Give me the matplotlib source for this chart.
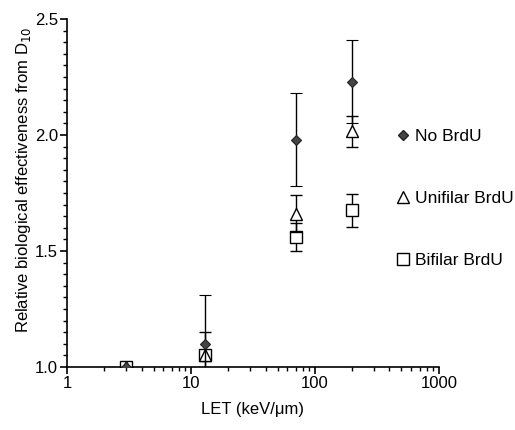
import numpy as np
import matplotlib
matplotlib.use("Agg")
from matplotlib import pyplot as plt
from matplotlib.lines import Line2D
from matplotlib.ticker import FixedLocator, NullFormatter, MultipleLocator

plt.rcParams["font.family"] = ["Liberation Sans", "DejaVu Sans"]

# LET values (keV/um)
let = [3, 13, 70, 200]

# RBE from D10 with error bars
rbe_none = [1.0, 1.10, 1.98, 2.23]
err_none = [0.0, 0.21, 0.20, 0.18]
rbe_uni = [1.0, 1.05, 1.66, 2.015]
err_uni = [0.0, 0.10, 0.08, 0.065]
rbe_bi = [1.0, 1.05, 1.56, 1.675]
err_bi = [0.0, 0.0, 0.06, 0.07]

labels = ["No BrdU", "Unifilar BrdU", "Bifilar BrdU"]

fig = plt.figure(figsize=(5.15, 4.3), dpi=100)
ax = fig.add_axes([0.130, 0.1465, 0.722, 0.8095])

ebkw = dict(ecolor="black", elinewidth=1.0, capsize=4.5, capthick=1.0, linestyle="none")
ax.errorbar(let, rbe_bi, yerr=err_bi, marker="s", ms=8, mfc="white", mec="black",
            mew=1.0, zorder=3, **ebkw)
ax.errorbar(let, rbe_uni, yerr=err_uni, marker="^", ms=9, mfc="white", mec="black",
            mew=1.0, zorder=4, **ebkw)
ax.errorbar(let, rbe_none, yerr=err_none, marker="D", ms=5, mfc="#444444", mec="#222222",
            mew=0.8, zorder=5, **ebkw)

ax.set_xscale("log")
ax.set_xlim(1, 1000)
ax.set_ylim(1.0, 2.5)
ax.set_xticks([1, 10, 100, 1000])
ax.set_xticklabels(["1", "10", "100", "1000"])
ax.xaxis.set_minor_locator(FixedLocator([m * 10 ** e for e in range(3) for m in range(2, 10)]))
ax.xaxis.set_minor_formatter(NullFormatter())
ax.set_yticks([1.0, 1.5, 2.0, 2.5])
ax.set_yticklabels(["1.0", "1.5", "2.0", "2.5"])
ax.yaxis.set_minor_locator(MultipleLocator(0.05))

for s in ["top", "right"]:
    ax.spines[s].set_visible(False)
for s in ["left", "bottom"]:
    ax.spines[s].set_linewidth(1.2)
ax.tick_params(which="major", direction="out", length=5, width=1.2, labelsize=12, pad=1.5)
ax.tick_params(which="minor", direction="out", length=3, width=1.0)

ax.set_xlabel("LET (keV/\u03bcm)", fontsize=12, labelpad=8)
ax.set_ylabel("Relative biological effectiveness from D$_{10}$", fontsize=12)
ax.yaxis.set_label_coords(-0.09, 0.537)

handles = [
    Line2D([], [], marker="D", ms=5, mfc="#444444", mec="#222222", ls="none"),
    Line2D([], [], marker="^", ms=9, mfc="white", mec="black", ls="none"),
    Line2D([], [], marker="s", ms=8, mfc="white", mec="black", ls="none"),
]
ax.legend(handles, labels, loc="center left", bbox_to_anchor=(0.884, 0.484),
          frameon=False, fontsize=12.5, labelspacing=2.7, handlelength=0.8,
          handletextpad=0.3, borderpad=0, borderaxespad=0)

fig.savefig("out.png", dpi=100)
